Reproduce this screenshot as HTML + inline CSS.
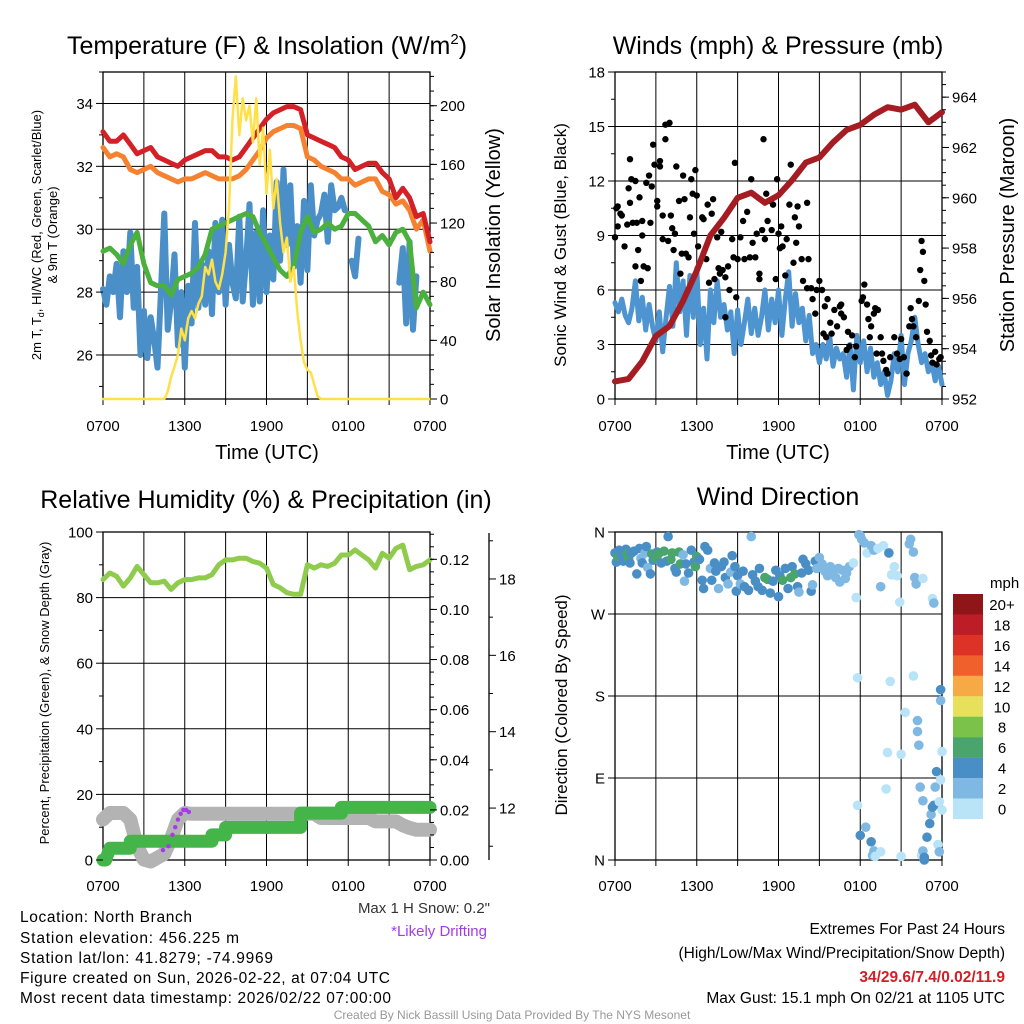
<!DOCTYPE html>
<html><head><meta charset="utf-8">
<style>
html,body{margin:0;padding:0;background:#fff;}
svg{display:block;font-family:"Liberation Sans",sans-serif;}
</style></head>
<body>
<svg id="fig" width="1024" height="1024" viewBox="0 0 1024 1024" xmlns="http://www.w3.org/2000/svg">
<rect x="0" y="0" width="1024" height="1024" fill="#fff"/>
<g id="marks"></g>
<!-- titles -->
<text x="267" y="54" font-size="25" text-anchor="middle">Temperature (F) &amp; Insolation (W/m<tspan font-size="15" dy="-10">2</tspan><tspan dy="10">)</tspan></text>
<text x="778" y="54" font-size="25" text-anchor="middle">Winds (mph) &amp; Pressure (mb)</text>
<text x="266" y="508" font-size="25" text-anchor="middle">Relative Humidity (%) &amp; Precipitation (in)</text>
<text x="778" y="505" font-size="25" text-anchor="middle">Wind Direction</text>
<!-- axis titles -->
<text x="267" y="459" font-size="20" text-anchor="middle">Time (UTC)</text>
<text x="778" y="459" font-size="20" text-anchor="middle">Time (UTC)</text>
<text transform="translate(41,235) rotate(-90)" font-size="13" text-anchor="middle">2m T, T<tspan font-size="9" dy="3">d</tspan><tspan dy="-3">, HI/WC (Red, Green, Scarlet/Blue)</tspan></text>
<text transform="translate(57,235) rotate(-90)" font-size="13" text-anchor="middle">&amp; 9m T (Orange)</text>
<text transform="translate(500,235) rotate(-90)" font-size="20" text-anchor="middle">Solar Insolation (Yellow)</text>
<text transform="translate(566,245) rotate(-90)" font-size="17" text-anchor="middle">Sonic Wind &amp; Gust (Blue, Black)</text>
<text transform="translate(1014,235) rotate(-90)" font-size="20" text-anchor="middle">Station Pressure (Maroon)</text>
<text transform="translate(49,693) rotate(-90)" font-size="13" text-anchor="middle">Percent, Precipitation (Green), &amp; Snow Depth (Gray)</text>
<text transform="translate(567,705) rotate(-90)" font-size="17" text-anchor="middle">Direction (Colored By Speed)</text>
<text x="990" y="588" font-size="15">mph</text>
<!-- footer text -->
<text x="490" y="913" font-size="15" text-anchor="end" fill="#333">Max 1 H Snow: 0.2"</text>
<text x="487" y="936" font-size="15" text-anchor="end" fill="#a43be8">*Likely Drifting</text>
<g font-size="15.5">
<text x="20" y="922" textLength="172">Location: North Branch</text>
<text x="20" y="943" textLength="219">Station elevation: 456.225 m</text>
<text x="20" y="963" textLength="253">Station lat/lon: 41.8279; -74.9969</text>
<text x="20" y="983" textLength="370">Figure created on Sun, 2026-02-22, at 07:04 UTC</text>
<text x="20" y="1003" textLength="371">Most recent data timestamp: 2026/02/22 07:00:00</text>
</g>
<g font-size="15.5" text-anchor="end">
<text x="1005" y="934">Extremes For Past 24 Hours</text>
<text x="1005" y="958">(High/Low/Max Wind/Precipitation/Snow Depth)</text>
<text x="1005" y="982" fill="#d02027" font-weight="bold">34/29.6/7.4/0.02/11.9</text>
<text x="1005" y="1003">Max Gust: 15.1 mph On 02/21 at 1105 UTC</text>
</g>
<text x="512" y="1019" font-size="12" text-anchor="middle" fill="#999">Created By Nick Bassill Using Data Provided By The NYS Mesonet</text>
</svg>
<script>
// ---------- DATA ----------
const xTickLabels = ["0700","1300","1900","0100","0700"];
// Temperature panel (0.5 h step)
const tempRed = [33.1,32.8,32.8,33.0,32.7,32.4,32.5,32.6,32.3,32.2,32.1,32.0,32.2,32.3,32.4,32.5,32.5,32.3,32.3,32.2,32.3,32.6,32.9,33.2,33.5,33.7,33.8,33.9,33.9,33.8,33.0,32.9,32.8,32.7,32.6,32.3,32.2,31.9,32.0,32.1,32.1,31.8,31.6,31.0,31.3,31.0,30.4,30.5,29.6];
const tempOrange = [32.6,32.3,32.4,32.3,31.9,31.8,31.9,32.0,31.8,31.7,31.6,31.5,31.6,31.6,31.7,31.8,31.7,31.6,31.6,31.6,31.7,31.9,32.2,32.5,32.9,33.1,33.2,33.3,33.3,33.2,32.3,32.2,32.0,31.9,31.8,31.6,31.6,31.4,31.5,31.6,31.6,31.2,31.1,30.8,30.9,30.6,30.0,30.3,29.3];
const tempGreen = [29.3,29.4,29.2,28.9,29.5,29.9,28.9,28.3,28.2,28.2,27.9,28.4,28.5,28.6,28.8,29.2,30.0,30.1,30.2,30.3,30.4,30.5,30.4,29.9,29.5,29.1,28.7,28.5,28.8,29.9,30.4,29.9,30.0,30.2,30.0,30.1,30.5,30.5,30.3,30.1,29.6,29.8,29.5,29.9,30.0,29.6,27.5,28.0,27.6];
// wind chill (0.25 h step)
const tempBlue = [28.1,27.6,28.5,28.0,28.9,27.2,29.3,28.0,29.9,
27.5,28.8,26.0,27.4,25.9,27.2,26.5,25.6,
28.0,30.5,26.8,27.7,29.2,26.3,28.0,25.6,
28.2,27.0,30.2,27.5,28.9,27.6,29.3,27.3,
30.2,28.0,30.3,27.6,29.5,28.3,27.8,30.4,
27.7,29.0,30.8,27.6,29.9,27.7,30.6,28.0,
29.8,28.4,31.5,29.0,31.9,29.5,31.4,28.8,
30.1,28.3,30.9,28.7,31.4,29.8,30.3,30.5,
31.1,29.6,31.4,30.6,30.7,31.0,30.6,null,
29.0,28.5,29.7,null,null,null,null,null,
null,null,null,null,null,null,28.3,29.4,
27.0,29.6,26.8,28.5,null,null,null,null];
// insolation W/m2 (0.25 h step)
const insolation = [0,0,0,0,0,0,0,0,0,0,0,0,0,0,0,0,0,0,0,5,15,22,30,48,40,55,60,55,65,70,90,85,95,80,75,85,100,130,190,220,180,205,190,200,175,205,160,185,140,170,130,150,120,100,110,80,90,60,40,25,20,18,10,2,0,0,0,0,0,0,0,0,0,0,0,0,0,0,0,0,0,0,0,0,0,0,0,0,0,0,0,0,0,0,0,0,0];
// Winds panel
const windSpeed = [5.3,4.8,5.5,4.6,4.2,5.0,6.5,4.3,5.6,
3.8,5.2,4.0,3.2,4.8,2.6,4.5,6.2,
4.0,7.5,4.8,6.5,3.5,6.8,4.5,7.2,
3.0,5.0,2.2,6.0,4.2,6.5,4.5,5.2,
3.8,4.8,2.5,4.9,3.0,4.2,5.5,3.6,
5.0,3.5,4.5,6.0,3.8,5.5,4.2,6.0,
3.5,5.5,7.0,4.0,5.8,4.2,5.0,3.2,
4.6,2.5,3.0,2.0,3.0,2.2,3.5,1.8,
2.8,2.2,2.5,1.2,3.0,0.5,3.5,2.0,
3.2,1.5,2.8,1.2,2.0,0.8,1.5,0.2,
1.0,2.5,1.5,3.5,0.8,2.5,3.2,4.5,
3.0,2.0,2.5,1.5,2.0,1.0,1.8,0.8];
// pressure mb (1 h step)
const pressure = [952.7,952.8,953.5,954.5,954.9,955.9,957.1,958.5,959.2,960.0,960.2,959.8,960.1,960.7,961.4,961.6,962.2,962.7,962.9,963.3,963.6,963.5,963.7,963.0,963.4];
const gustHours = [0,0.1,0.2,0.4,0.5,0.2,0.7,0.9,1.0,1.1,1.1,1.2,1.3,1.5,1.5,1.6,1.7,1.8,1.9,2.0,2.0,2.1,2.3,2.4,2.5,2.6,2.7,2.8,2.9,3.1,3.1,3.3,3.3,3.5,3.5,3.7,3.7,3.9,4.0,4.1,4.2,4.3,4.4,4.5,4.7,4.8,4.9,5.0,5.1,5.2,5.4,5.5,5.6,5.7,5.8,5.9,6.0,6.1,6.4,6.5,6.7,6.8,6.9,7.1,7.2,7.3,7.5,7.6,7.7,7.8,7.9,8.1,8.1,8.3,8.4,8.6,8.7,8.8,8.9,9.0,9.2,9.4,9.5,9.7,9.9,10.0,10.1,10.3,10.4,10.6,10.6,10.8,10.9,11.0,11.1,11.2,11.4,11.5,11.6,11.8,11.9,12.0,12.1,12.2,12.3,12.5,12.6,12.8,12.9,13.1,13.2,13.3,13.4,13.5,13.7,13.8,14.1,14.1,14.2,14.4,14.5,14.7,14.8,15.0,15.2,15.3,15.4,15.5,15.6,15.8,15.9,16.1,16.3,16.5,16.6,16.6,16.8,17.0,17.1,17.2,17.4,17.6,17.7,18.1,18.2,18.3,18.5,18.6,18.7,18.8,19.0,19.1,19.2,19.3,19.5,19.6,19.7,19.9,20.0,20.2,20.5,20.7,20.9,21.0,21.2,21.4,21.6,21.7,21.8,21.9,22.1,22.3,22.4,22.5,22.6,22.7,22.8,22.9,23.1,23.2,23.3,23.5,23.6,23.8,23.9];
const gustMph = [8.9,10.5,10.6,10.2,10.1,9.5,8.4,9.6,11.6,10.8,13.2,12.1,9.7,7.3,12.0,9.7,8.2,11.1,6.5,9.0,9.8,7.3,11.9,7.2,12.3,9.7,11.7,14.0,12.9,10.9,10.6,12.8,13.1,10.1,8.8,14.3,15.1,8.7,15.2,10.1,9.4,8.2,9.1,12.8,10.9,6.9,8.0,12.3,11.0,8.0,7.8,10.0,12.1,11.3,9.1,12.6,11.2,8.4,10.0,9.9,7.7,10.7,6.4,10.2,11.0,6.6,8.9,7.2,6.9,9.2,7.1,6.7,4.5,7.3,6.0,8.8,7.8,13.0,5.6,7.7,8.9,9.8,7.7,10.3,7.8,12.1,8.6,7.8,9.1,6.9,6.6,9.3,14.3,8.8,11.3,9.8,10.9,9.3,10.7,6.6,12.1,9.1,8.3,9.5,8.4,6.8,8.8,10.7,12.9,7.5,10.0,8.6,10.6,9.5,7.7,6.5,6.1,10.8,7.7,6.1,5.5,4.7,6.0,6.5,6.0,3.6,5.1,3.4,5.5,4.2,3.6,4.9,4.0,5.1,4.7,5.2,4.5,2.7,3.7,2.9,3.5,2.3,2.9,5.4,5.6,6.3,5.2,4.4,3.4,4.0,4.7,5.0,2.5,4.9,3.4,2.5,2.1,1.6,1.4,2.3,3.4,2.5,2.2,3.3,2.3,1.4,4.0,5.0,4.4,4.0,3.4,5.4,7.1,8.7,8.1,6.5,5.2,3.7,3.2,2.4,2.0,2.6,1.9,2.2,2.3];
// Humidity panel (0.5 h step)
const relHumidity = [85.5,87.5,86.5,83.5,86,89.5,87,84.5,84.5,85,82.5,84.5,85.5,85.5,86,86,87,90,91.5,91.5,92,92,91,90.5,89,84,83,81.5,81,81,90,89,90,89.5,90.5,93,93,94.5,93,91.5,89,93.5,92,95,96,88.5,89.5,90,91.5];
const precipIn = [0,0.0047,0.0047,0.0047,0.0075,0.0075,0.0075,0.0075,0.0075,0.0075,0.0075,0.0075,0.0075,0.0075,0.0075,0.0075,0.0100,0.0100,0.0130,0.0130,0.0130,0.0130,0.0130,0.0130,0.0130,0.0130,0.0130,0.0130,0.0130,0.0187,0.0187,0.0187,0.0187,0.0187,0.0187,0.0210,0.0210,0.0210,0.0210,0.0210,0.0210,0.0210,0.0210,0.0210,0.0210,0.0210,0.0210,0.0210,0.0210];
const snowDepth = [11.7,11.87,11.87,11.87,11.7,11.0,10.65,10.6,10.7,10.8,11.2,11.7,11.87,11.85,11.85,11.85,11.85,11.85,11.85,11.85,11.85,11.85,11.85,11.85,11.85,11.85,11.85,11.85,11.85,11.85,11.85,11.85,11.74,11.74,11.74,11.74,11.74,11.74,11.74,11.74,11.65,11.65,11.65,11.65,11.55,11.48,11.43,11.43,11.43];
const driftHours = [4.4,4.8,5.1,5.3,5.5,5.7,5.9,6.1,6.3];
const driftDepth = [10.9,11.0,11.3,11.5,11.7,11.85,11.95,11.95,11.9];
// Wind direction panel
const dirHours = [0.0,0.1,0.2,0.3,0.5,0.6,0.8,0.9,1.0,1.1,1.2,1.4,1.6,1.8,1.9,2.0,2.2,2.3,2.4,2.6,2.7,2.8,3.0,3.1,3.2,3.4,3.6,3.8,3.9,4.1,4.2,4.4,4.5,4.7,4.8,5.0,5.1,5.2,5.4,5.6,5.8,5.9,6.0,6.2,6.4,6.5,6.6,6.8,7.0,7.1,7.3,7.4,7.6,7.8,8.0,8.1,8.3,8.5,8.6,8.8,8.9,9.0,9.2,9.4,9.5,9.8,10.0,10.1,10.3,10.5,10.6,10.8,11.0,11.2,11.4,11.6,11.8,12.0,12.1,12.3,12.5,12.7,12.9,13.0,13.2,13.4,13.5,13.7,13.8,14.0,14.2,14.4,14.5,14.7,14.8,15.0,15.2,15.4,15.6,15.8,16.0,16.2,16.4,16.5,16.7,16.9,17.0,17.2,17.5,17.7,17.9,18.0,18.1,18.3,18.5,18.8,19.0,19.3,19.5,19.7,20.1,20.3,20.5,20.7,20.9,21.6,21.7,21.9,22.0,22.1,22.6,23.3,23.4,
17.8,17.8,18.0,18.4,18.8,18.9,19.0,19.1,19.5,19.9,20.0,20.2,21.0,21.9,22.2,22.2,22.3,22.4,22.6,22.5,22.6,22.7,22.7,22.9,23.1,23.2,23.3,23.4,23.5,23.6,23.9,23.8,24.0,23.7,23.8,23.9,23.9,24.0,21.3,21.0];
const dirDegrees = [337,327,333,340,334,328,341,336,331,326,337,339,314,342,331,326,337,344,321,314,336,329,331,338,336,326,339,328,355,330,337,320,316,338,325,335,306,325,315,340,327,322,333,330,307,298,344,340,320,307,326,317,298,322,327,310,303,316,334,322,295,312,303,317,300,296,355,313,306,300,320,296,310,308,293,306,318,289,312,307,320,298,310,322,314,300,294,315,330,325,318,295,302,328,320,332,325,317,312,322,315,310,320,305,318,309,315,322,326,288,357,356,352,348,337,345,340,342,300,345,337,313,322,312,283,347,352,338,310,303,309,287,282,
200,60,27,36,20,5,10,4,9,78,118,196,4,202,153,141,126,80,65,5,10,3,0,25,40,50,58,60,80,97,88,64,55,17,9,187,175,119,162,116];
const dirSpeed = [4.5,4.5,6.5,4.5,4.8,4.6,4.5,6.5,6.2,4.3,4.5,4.5,4.5,4.4,3.9,4.5,2.5,4.5,3.0,4.5,6.6,4.2,6.5,4.4,6.8,4.2,6.5,4.5,4.5,6.5,6.6,4.5,4.5,6.5,6.5,2.5,2.5,4.8,4.5,4.5,4.5,6.3,6.7,4.4,4.4,4.4,4.5,4.5,3.0,4.4,4.5,4.5,2.2,4.5,4.7,4.5,2.0,2.5,4.5,4.5,4.5,4.5,2.5,4.5,4.6,4.5,2.5,4.5,4.4,4.5,4.4,4.5,6.5,6.5,4.5,4.5,4.5,4.5,4.5,6.5,4.5,4.5,6.6,4.5,6.6,4.5,2.5,4.5,4.5,4.5,4.0,4.5,2.8,4.4,2.5,2.5,2.5,2.5,2.5,2.5,2.5,2.5,2.5,2.5,2.5,2.0,2.4,2.5,1.5,1.5,2.8,2.5,2.5,2.0,1.5,2.5,2.5,1.0,2.8,0.5,4.0,1.0,1.5,1.5,1.5,2.5,2.5,3.2,3.0,3.0,1.0,1.0,2.5,
1.0,1.0,4.0,3.0,4.0,2.0,2.0,1.5,1.0,1.0,1.0,1.0,0.5,1.0,2.0,2.0,3.5,2.5,2.0,1.0,2.5,4.5,4.5,4.0,4.5,3.0,4.5,4.0,2.5,4.0,1.0,1.0,1.0,1.0,3.0,4.5,2.0,1.0,1.0,0.5];
const speedBinLabels = ["20+","18","16","14","12","10","8","6","4","2","0"];
const speedBinColors = ["#8f1519","#bd1d26","#dd3327","#ef602c","#f6a944","#e6e05a","#7bc24a","#4aa56c","#4a8ec6","#7fb9e3","#b9e3f7"];

// ---------- DRAWING ----------
const NS = "http://www.w3.org/2000/svg";
const root = document.getElementById('marks');
function mk(tag, attrs, name, parent){
  const el = document.createElementNS(NS, tag);
  for (const k in attrs) el.setAttribute(k, attrs[k]);
  
  
  (parent || root).appendChild(el);
  return el;
}
function txt(x, y, s, size, anchor, name){
  const t = mk('text', {x:x, y:y, 'font-size':size, 'text-anchor':anchor, fill:'#000'}, name);
  t.textContent = s;
  return t;
}
function panel(x0, y0, x1, y1){
  return {x0:x0, y0:y0, x1:x1, y1:y1,
    sx: h => x0 + h/24*(x1-x0),
    lin: (a, b) => v => y1 - (v-a)/(b-a)*(y1-y0)};
}
function linePath(xs, ys){
  let d = '', pen = false;
  for (let i=0;i<xs.length;i++){
    if (ys[i] === null || ys[i] === undefined){ pen=false; continue; }
    d += (pen ? 'L' : 'M') + xs[i].toFixed(1) + ',' + ys[i].toFixed(1);
    pen = true;
  }
  return d;
}
function series(P, vals, step, yf, color, width, name){
  const xs = vals.map((v,i)=>P.sx(i*step));
  const ys = vals.map(v=> v===null ? null : yf(v));
  return mk('path', {d:linePath(xs,ys), fill:'none', stroke:color, 'stroke-width':width, 'stroke-linejoin':'round', 'stroke-linecap':'round'}, name);
}
function frame(P, hTicks, yf, pfx){
  mk('rect', {x:P.x0, y:P.y0, width:P.x1-P.x0, height:P.y1-P.y0, fill:'none', stroke:'#000', 'stroke-width':1.3}, pfx+'-plot-frame');
  for (let h=3; h<24; h+=3){
    const x = P.sx(h);
    mk('line', {x1:x, y1:P.y0, x2:x, y2:P.y1, stroke:'#000', 'stroke-width':1}, pfx+'-vertical-gridline');
  }
  hTicks.forEach(v=>{
    const y = yf(v);
    mk('line', {x1:P.x0, y1:y, x2:P.x1, y2:y, stroke:'#000', 'stroke-width':1}, pfx+'-horizontal-gridline');
  });
  for (let h=0; h<=24; h+=3){
    const x = P.sx(h);
    mk('line', {x1:x, y1:P.y1, x2:x, y2:P.y1+6, stroke:'#000', 'stroke-width':1}, pfx+'-x-tick');
  }
}
function xLabels(P, y, pfx){
  xTickLabels.forEach((s,i)=>{ txt(P.sx(i*6), y, s, 15, 'middle', pfx+'-x-tick-label'); });
}
function yAxis(x, yf, majors, minors, labels, side, pfx, size){
  const dir = side==='left' ? -1 : 1;
  majors.forEach((v,i)=>{
    const y = yf(v);
    mk('line', {x1:x, y1:y, x2:x+dir*7, y2:y, stroke:'#000', 'stroke-width':1}, pfx+'-major-tick');
    txt(x+dir*10, y+5.5, labels[i], size||15, side==='left'?'end':'start', pfx+'-tick-label');
  });
  minors.forEach(v=>{
    const y = yf(v);
    mk('line', {x1:x, y1:y, x2:x+dir*4, y2:y, stroke:'#000', 'stroke-width':1}, pfx+'-minor-tick');
  });
}
function range(a,b,s){ const r=[]; for(let v=a; v<=b+1e-9; v+=s) r.push(+v.toFixed(4)); return r; }

// ---- Panel 1: temperature ----
const P1 = panel(103, 72, 430, 399);
const yT = P1.lin(24.6, 35.0);
const yS = P1.lin(0, 223);
frame(P1, [26,28,30,32,34], yT, 'temp');
series(P1, tempBlue, 0.25, yT, '#4a8fc8', 6, 'wind-chill-line');
series(P1, tempGreen, 0.5, yT, '#4bb03e', 5, 'dewpoint-line');
series(P1, tempOrange, 0.5, yT, '#f58230', 5, 'temp-9m-line');
series(P1, tempRed, 0.5, yT, '#d42027', 5, 'temp-2m-line');
series(P1, insolation, 0.25, yS, '#ffe048', 2.5, 'insolation-line');
yAxis(P1.x0, yT, [26,28,30,32,34], [25,27,29,31,33,35], ['26','28','30','32','34'], 'left', 'temp-y');
yAxis(P1.x1, yS, [0,40,80,120,160,200], range(10,220,10), ['0','40','80','120','160','200'], 'right', 'insolation-y');
xLabels(P1, 431, 'temp');

// ---- Panel 2: winds ----
const P2 = panel(615, 72, 942, 399);
const yW = P2.lin(0, 18);
const yP = P2.lin(952, 965);
frame(P2, [3,6,9,12,15], yW, 'winds');
series(P2, windSpeed, 0.25, yW, '#4d94d0', 5, 'wind-speed-line');
gustHours.forEach((h,i)=>{
  mk('circle', {cx:P2.sx(h), cy:yW(gustMph[i]), r:3.2, fill:'#000'}, 'gust-point');
});
series(P2, pressure, 1, yP, '#a51d22', 6, 'pressure-line');
yAxis(P2.x0, yW, [0,3,6,9,12,15,18], [1.5,4.5,7.5,10.5,13.5,16.5], ['0','3','6','9','12','15','18'], 'left', 'wind-y');
yAxis(P2.x1, yP, [952,954,956,958,960,962,964], range(952.5,965,0.5), ['952','954','956','958','960','962','964'], 'right', 'pressure-y');
xLabels(P2, 431, 'winds');

// ---- Panel 3: humidity ----
const P3 = panel(103, 532, 430, 860);
const yRH = P3.lin(0, 100);
const yPr = P3.lin(0, 0.1309);
const ySn = P3.lin(10.64, 19.23);
frame(P3, [20,40,60,80], yRH, 'humidity');
series(P3, snowDepth, 0.5, ySn, '#b3b3b3', 14, 'snow-depth-line');
(function(){
  const xs=[], ys=[];
  precipIn.forEach((v,i)=>{
    if (i>0){ xs.push(P3.sx(i*0.5)); ys.push(yPr(precipIn[i-1])); }
    xs.push(P3.sx(i*0.5)); ys.push(yPr(v));
  });
  xs[1] = P3.sx(0.2); ys[1] = yPr(precipIn[0]);
  mk('path', {d:linePath(xs,ys), fill:'none', stroke:'#44b549', 'stroke-width':13, 'stroke-linecap':'round', 'stroke-linejoin':'round'}, 'precipitation-line');
})();
driftHours.forEach((h,i)=>{
  mk('circle', {cx:P3.sx(h), cy:ySn(driftDepth[i]), r:2.2, fill:'#a43be8'}, 'drifting-point');
});
series(P3, relHumidity, 0.5, yRH, '#8fcb4c', 5, 'relative-humidity-line');
yAxis(P3.x0, yRH, [0,20,40,60,80,100], [10,30,50,70,90], ['0','20','40','60','80','100'], 'left', 'humidity-y');
yAxis(P3.x1, yPr, [0,0.02,0.04,0.06,0.08,0.10,0.12], range(0.005,0.13,0.005), ['0.00','0.02','0.04','0.06','0.08','0.10','0.12'], 'right', 'precip-y');
mk('line', {x1:489, y1:533, x2:489, y2:860, stroke:'#000', 'stroke-width':1.3}, 'snow-axis-line');
yAxis(489, ySn, [12,14,16,18], [11,13,15,17,19], ['12','14','16','18'], 'right', 'snow-y');
xLabels(P3, 891, 'humidity');

// ---- Panel 4: wind direction ----
const P4 = panel(615, 532, 942, 860);
const yD = P4.lin(0, 360);
frame(P4, [90,180,270], yD, 'direction');
function speedColor(s){
  let bin = Math.floor(s/2); if (bin>10) bin=10;
  return speedBinColors[10-bin];
}
dirHours.forEach((h,i)=>{
  mk('circle', {cx:P4.sx(h), cy:yD(dirDegrees[i]), r:4.8, fill:speedColor(dirSpeed[i])}, 'direction-point');
});
yAxis(P4.x0, yD, [0,90,180,270,360], [], ['N','E','S','W','N'], 'left', 'direction-y', 15);
xLabels(P4, 891, 'direction');
speedBinLabels.forEach((s,i)=>{
  const y = 594 + i*20.45;
  mk('rect', {x:953, y:y, width:30, height:20.6, fill:speedBinColors[i]}, 'colorbar-box');
  txt(1002, y+16, s, 15, 'middle', 'colorbar-label');
});
</script>
</body></html>
